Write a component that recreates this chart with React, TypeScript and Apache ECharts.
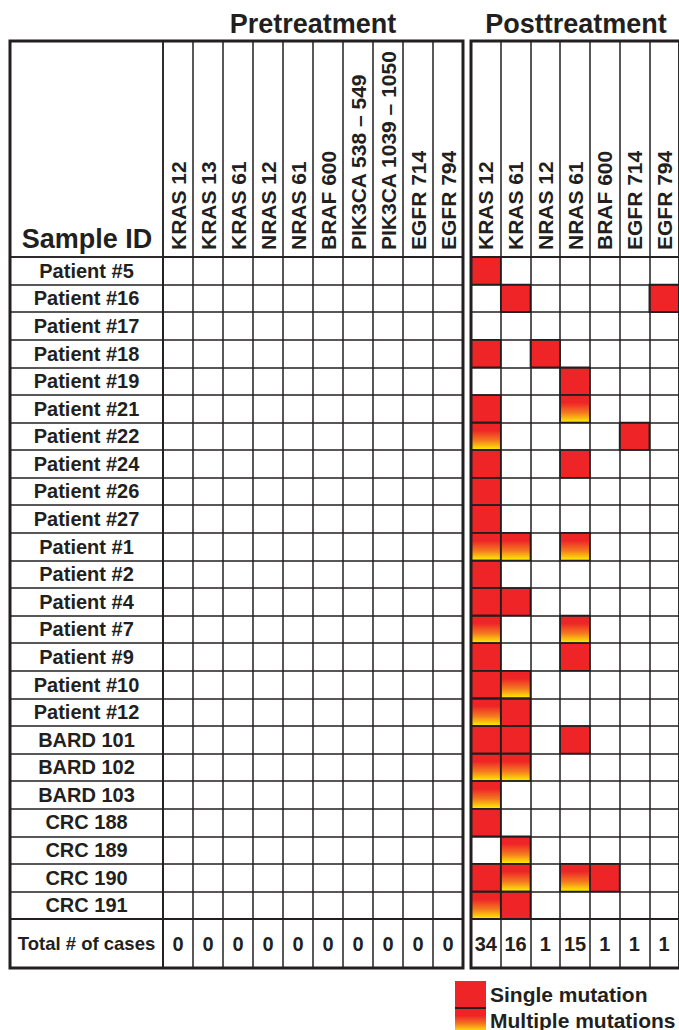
import React, { useEffect, useRef } from "react";
import * as echarts from "echarts";

const preGenes = ["KRAS 12", "KRAS 13", "KRAS 61", "NRAS 12", "NRAS 61", "BRAF 600", "PIK3CA 538 – 549", "PIK3CA 1039 – 1050", "EGFR 714", "EGFR 794"];
const postGenes = ["KRAS 12", "KRAS 61", "NRAS 12", "NRAS 61", "BRAF 600", "EGFR 714", "EGFR 794"];
const samples = ["Patient #5", "Patient #16", "Patient #17", "Patient #18", "Patient #19", "Patient #21", "Patient #22", "Patient #24", "Patient #26", "Patient #27", "Patient #1", "Patient #2", "Patient #4", "Patient #7", "Patient #9", "Patient #10", "Patient #12", "BARD 101", "BARD 102", "BARD 103", "CRC 188", "CRC 189", "CRC 190", "CRC 191"];
// 0 = none, 1 = single mutation, 2 = multiple mutations
const preStatus = ["0000000000", "0000000000", "0000000000", "0000000000", "0000000000", "0000000000", "0000000000", "0000000000", "0000000000", "0000000000", "0000000000", "0000000000", "0000000000", "0000000000", "0000000000", "0000000000", "0000000000", "0000000000", "0000000000", "0000000000", "0000000000", "0000000000", "0000000000", "0000000000"];
const postStatus = ["1000000", "0100001", "0000000", "1010000", "0001000", "1002000", "2000010", "1001000", "1000000", "1000000", "2202000", "1000000", "1100000", "2002000", "1001000", "1200000", "2100000", "1101000", "2200000", "2000000", "1000000", "0200000", "1202100", "2100000"];
const preTotals = [0, 0, 0, 0, 0, 0, 0, 0, 0, 0];
const postTotals = [34, 16, 1, 15, 1, 1, 1];
const totalLabel = ["Total # of cases"];

const INK = "#231F20";
const RED = "#EE2427";
const FONT = "'Liberation Sans', Arial, Helvetica, sans-serif";

const gradient = () =>
  new echarts.graphic.LinearGradient(0, 0, 0, 1, [
    { offset: 0, color: RED },
    { offset: 0.28, color: RED },
    { offset: 0.65, color: "#F47A20" },
    { offset: 1, color: "#FFF200" },
  ]);

function toCells(rows: string[]) {
  const out: number[][] = [];
  rows.forEach((r, yi) => {
    r.split("").forEach((c, xi) => out.push([xi, yi, Number(c)]));
  });
  return out;
}

const cellRender = (params: any, api: any) => {
  const v = api.value(2);
  if (!v) return null;
  const p = api.coord([api.value(0), api.value(1)]);
  const s = api.size([1, 1]);
  return {
    type: "rect",
    shape: { x: p[0] - s[0] / 2, y: p[1] - s[1] / 2, width: s[0], height: s[1] },
    style: { fill: v === 1 ? RED : gradient(), stroke: INK, lineWidth: 1.5 },
  };
};

const totalRender = (params: any, api: any) => {
  const p = api.coord([api.value(0), 0]);
  return {
    type: "text",
    x: p[0],
    y: p[1],
    style: { text: String(api.value(1)), align: "center", verticalAlign: "middle", fill: INK, font: `bold 20px ${FONT}` },
  };
};

export default function App() {
  const ref = useRef<HTMLDivElement>(null);
  useEffect(() => {
    const chart = echarts.init(ref.current!, null, { renderer: "svg" });
    const line = { lineStyle: { color: INK, width: 1.5 } };
    const gridBase = { show: true, borderColor: INK, borderWidth: 1.5, backgroundColor: "transparent", z: 3 };
    const hidden = { show: false };
    const catX = (data: string[], gi: number, extra: any = {}) => ({
      type: "category", gridIndex: gi, data, z: 3,
      axisLine: hidden, axisTick: hidden, axisLabel: { show: false },
      splitLine: { show: true, interval: 0, ...line }, ...extra,
    });
    const catY = (data: string[], gi: number, extra: any = {}) => ({
      type: "category", gridIndex: gi, data, inverse: true, z: 3,
      axisLine: hidden, axisTick: hidden, axisLabel: { show: false },
      splitLine: { show: true, interval: 0, ...line }, ...extra,
    });
    const headLabel = {
      show: true, inside: true, rotate: 90, margin: 7, interval: 0,
      color: INK, fontWeight: "bold", fontSize: 21, fontFamily: FONT,
    };
    const option: any = {
      animation: false,
      grid: [
        { ...gridBase, left: 163, top: 41, width: 300, height: 216 },
        { ...gridBase, left: 471, top: 41, width: 210, height: 216 },
        { ...gridBase, left: 10, top: 257, width: 153, height: 662 },
        { ...gridBase, left: 163, top: 257, width: 300, height: 662 },
        { ...gridBase, left: 471, top: 257, width: 210, height: 662 },
        { ...gridBase, left: 10, top: 919, width: 153, height: 49 },
        { ...gridBase, left: 163, top: 919, width: 300, height: 49 },
        { ...gridBase, left: 471, top: 919, width: 210, height: 49 },
      ],
      xAxis: [
        catX(preGenes, 0, { axisLabel: headLabel }),
        catX(postGenes, 1, { axisLabel: headLabel }),
        { type: "value", gridIndex: 2, show: false },
        catX(preGenes, 3),
        catX(postGenes, 4),
        { type: "value", gridIndex: 5, show: false },
        catX(preGenes, 6),
        catX(postGenes, 7),
      ],
      yAxis: [
        { type: "value", gridIndex: 0, show: false },
        { type: "value", gridIndex: 1, show: false },
        catY(samples, 2, {
          axisLabel: { show: true, inside: true, align: "center", margin: 76.5, interval: 0, color: INK, fontWeight: "bold", fontSize: 20, fontFamily: FONT },
        }),
        catY(samples, 3),
        catY(samples, 4),
        catY(totalLabel, 5, {
          axisLabel: { show: true, inside: true, align: "center", margin: 76.5, color: INK, fontWeight: "bold", fontSize: 18.5, fontFamily: FONT },
        }),
        catY(["t"], 6),
        catY(["t"], 7),
      ],
      series: [
        { type: "custom", xAxisIndex: 3, yAxisIndex: 3, z: 1, data: toCells(preStatus), renderItem: cellRender },
        { type: "custom", xAxisIndex: 4, yAxisIndex: 4, z: 1, data: toCells(postStatus), renderItem: cellRender },
        { type: "custom", xAxisIndex: 6, yAxisIndex: 6, z: 4, data: preTotals.map((v, i) => [i, v]), renderItem: totalRender },
        { type: "custom", xAxisIndex: 7, yAxisIndex: 7, z: 4, data: postTotals.map((v, i) => [i, v]), renderItem: totalRender },
      ],
      graphic: [
        { type: "rect", z: 100, shape: { x: 10, y: 41, width: 453, height: 927 }, style: { fill: "none", stroke: INK, lineWidth: 3 } },
        { type: "rect", z: 100, shape: { x: 471, y: 41, width: 215, height: 927 }, style: { fill: "none", stroke: INK, lineWidth: 3 } },
        { type: "text", z: 100, x: 313, y: 24, style: { text: "Pretreatment", align: "center", verticalAlign: "middle", fill: INK, font: `bold 27px ${FONT}` } },
        { type: "text", z: 100, x: 576, y: 24, style: { text: "Posttreatment", align: "center", verticalAlign: "middle", fill: INK, font: `bold 27px ${FONT}` } },
        { type: "text", z: 100, x: 87, y: 239, style: { text: "Sample ID", align: "center", verticalAlign: "middle", fill: INK, font: `bold 27px ${FONT}` } },
        { type: "rect", z: 100, shape: { x: 455, y: 981, width: 31, height: 27 }, style: { fill: RED } },
        { type: "rect", z: 100, shape: { x: 455, y: 1009, width: 31, height: 23 }, style: { fill: gradient() } },
        { type: "line", z: 101, shape: { x1: 455, y1: 1008, x2: 486, y2: 1008 }, style: { stroke: INK, lineWidth: 2 } },
        { type: "text", z: 100, x: 490, y: 994, style: { text: "Single mutation", align: "left", verticalAlign: "middle", fill: INK, font: `bold 21px ${FONT}` } },
        { type: "text", z: 100, x: 490, y: 1020, style: { text: "Multiple mutations", align: "left", verticalAlign: "middle", fill: INK, font: `bold 21px ${FONT}` } },
      ],
    };
    chart.setOption(option);
    return () => chart.dispose();
  }, []);
  return <div ref={ref} style={{ position: "fixed", left: 0, top: 0, width: 679, height: 1030, background: "#fff" }} />;
}
